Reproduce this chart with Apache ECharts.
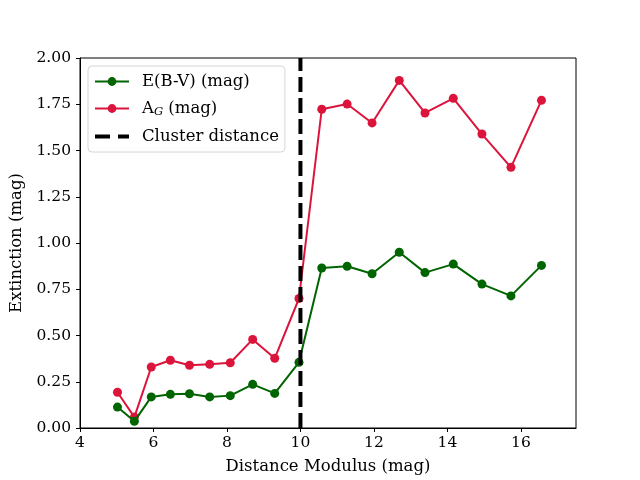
<!DOCTYPE html>
<html>
    <head>
        <meta charset="utf-8">
        <title>Extinction vs distance modulus</title>
        <script src="https://cdn.jsdelivr.net/npm/echarts@6/dist/echarts.min.js"></script>
        <style>body{margin:0;background:#fff;}</style>
    </head>
    <body>
        <div id="chart" style="width: 640px;height:480px;"></div>
        <script type="text/javascript">
            // distance modulus of each bin (mag)
            var distMod=[5.02,5.48,5.94,6.46,6.98,7.53,8.09,8.70,9.30,9.96,10.58,11.27,11.95,12.69,13.39,14.16,14.94,15.73,16.56];
            // reddening E(B-V)
            var ebv=[0.113,0.036,0.168,0.182,0.185,0.168,0.175,0.236,0.187,0.355,0.865,0.874,0.834,0.950,0.840,0.886,0.778,0.714,0.879];
            // G band extinction
            var ag=[0.193,0.059,0.330,0.366,0.339,0.344,0.353,0.479,0.377,0.700,1.723,1.751,1.649,1.879,1.703,1.782,1.589,1.409,1.771];
            var clusterDist=10.0;
            var yTicks=[0,0.25,0.5,0.75,1,1.25,1.5,1.75,2];

            var pairs=(xs,ys)=>xs.map((x,i)=>[x,ys[i]]);
            var font='DejaVu Serif';

            var myChart=echarts.init(document.getElementById('chart'));
            option={
                animation:false,
                backgroundColor:'#fff',
                textStyle:{fontFamily:font},
                grid:{left:80,right:64,top:58,bottom:52,show:true,borderColor:'#000',borderWidth:1,containLabel:false},
                legend:{
                    orient:'vertical',left:88,top:66,
                    backgroundColor:'#fff',borderColor:'#d6d6d6',borderWidth:1,borderRadius:4,
                    padding:[7,6,7,6],itemGap:10,itemWidth:34,itemHeight:11,
                    data:['E(B-V) (mag)','A_G',
                        {name:'Cluster distance',icon:'path://M0,0h15v4h-15zM23,0h11v4h-11z',itemStyle:{color:'#000'}}],
                    formatter:function(n){
                        if(n==='A_G') return '{t|A}{s|G}{t| (mag)}';
                        return '{t|'+n+'}';
                    },
                    textStyle:{fontFamily:font,fontSize:16.5,color:'#000',padding:[0,0,0,8],
                        rich:{t:{fontFamily:font,fontSize:16.5,color:'#000'},
                              s:{fontFamily:font,fontSize:11.5,fontStyle:'italic',color:'#000',verticalAlign:'bottom',padding:[7,0,0,0]}}}
                },
                xAxis:{
                    type:'value',min:4,max:17.5,interval:2,
                    name:'Distance Modulus (mag)',nameLocation:'middle',nameGap:30,
                    nameTextStyle:{fontFamily:font,fontSize:16.5,color:'#000'},
                    axisLine:{onZero:false,lineStyle:{color:'#000',width:1}},
                    axisTick:{show:true,length:4,inside:false,lineStyle:{color:'#000'}},
                    axisLabel:{fontFamily:font,fontSize:15.5,color:'#000',margin:7,showMaxLabel:false},
                    splitLine:{show:false}
                },
                yAxis:{
                    type:'value',min:0,max:2,interval:0.25,
                    name:'Extinction (mag)',nameLocation:'middle',nameGap:52,
                    nameTextStyle:{fontFamily:font,fontSize:16.5,color:'#000'},
                    axisLine:{show:true,lineStyle:{color:'#000',width:1}},
                    axisTick:{show:true,length:4,lineStyle:{color:'#000'}},
                    axisLabel:{fontFamily:font,fontSize:15.5,color:'#000',margin:9,
                        formatter:v=>v.toFixed(2)},
                    splitLine:{show:false}
                },
                series:[
                    {name:'E(B-V) (mag)',type:'line',data:pairs(distMod,ebv),
                        symbol:'circle',symbolSize:9,color:'#006400',
                        itemStyle:{color:'#006400'},lineStyle:{color:'#006400',width:2},z:3},
                    {name:'A_G',type:'line',data:pairs(distMod,ag),
                        symbol:'circle',symbolSize:9,color:'#dc143c',
                        itemStyle:{color:'#dc143c'},lineStyle:{color:'#dc143c',width:2},z:2},
                    {name:'Cluster distance',type:'line',data:[[clusterDist,yTicks[0]],[clusterDist,yTicks[yTicks.length-1]]],
                        symbol:'none',color:'#000',
                        lineStyle:{color:'#000',width:4,type:[15,6]},z:4}
                ]
            };
            myChart.setOption(option);
        </script>
    </body>
</html>
